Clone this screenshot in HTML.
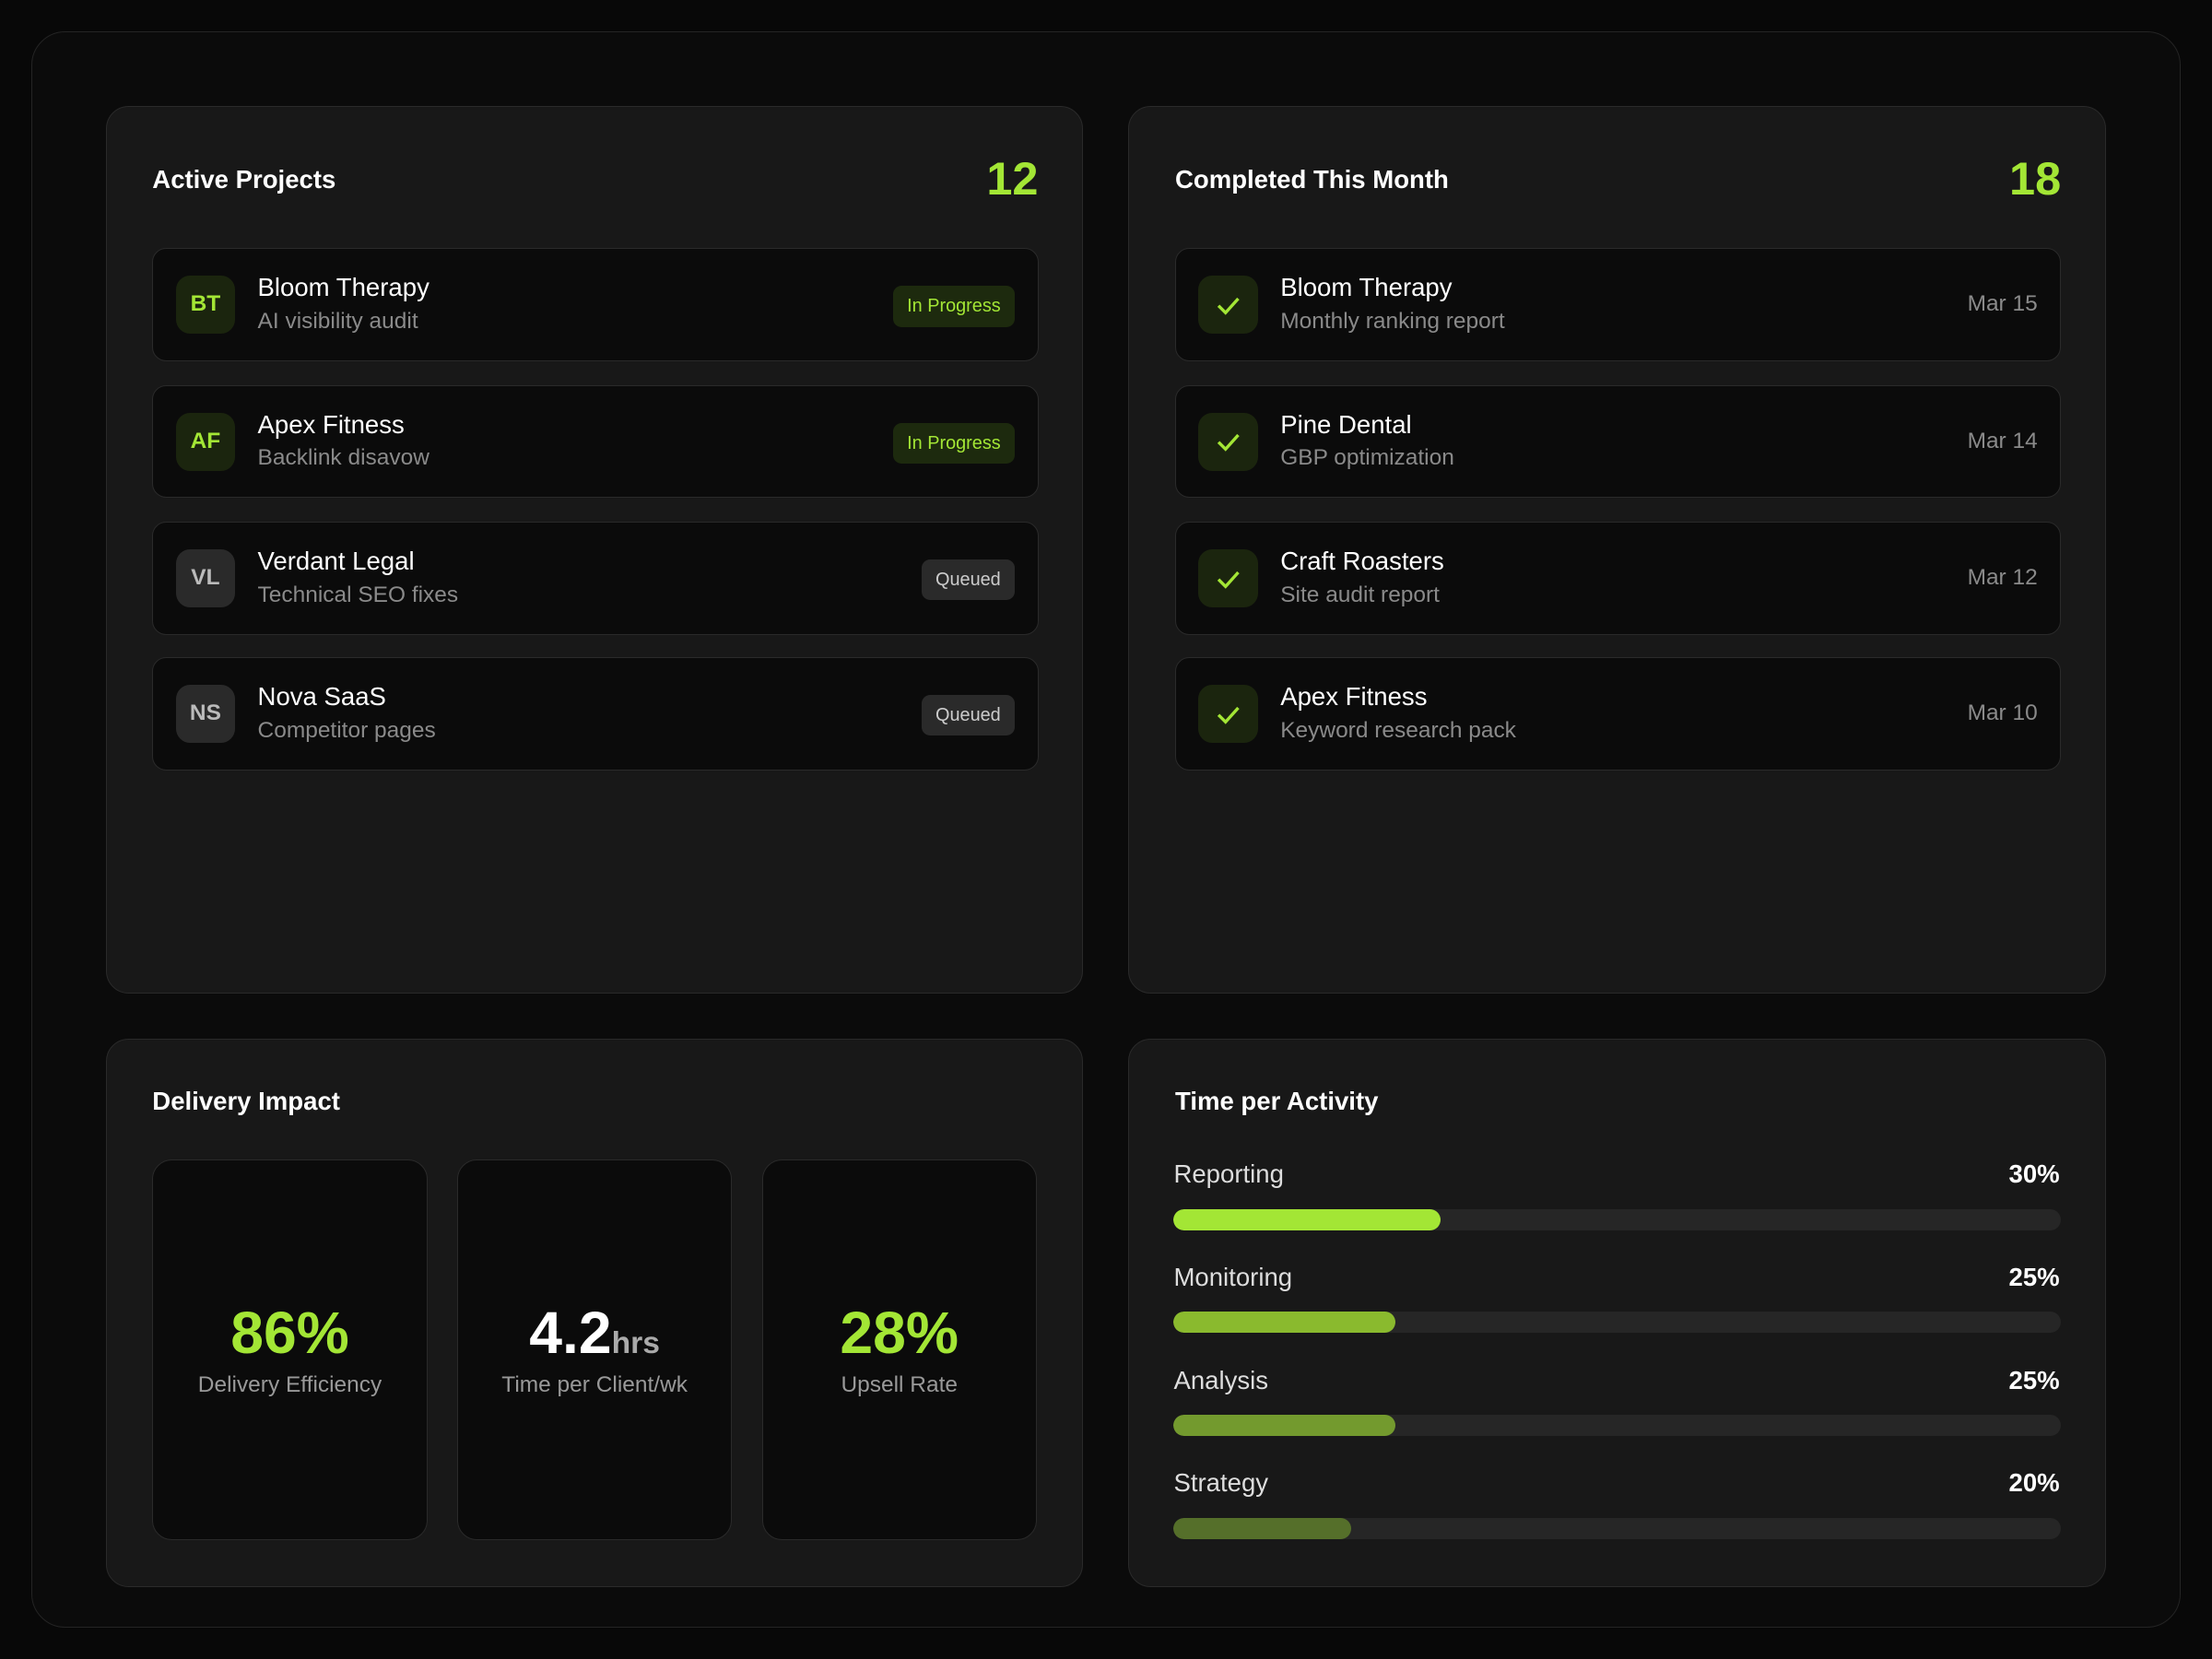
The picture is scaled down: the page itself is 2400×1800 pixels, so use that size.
<!DOCTYPE html>
<html><head><meta charset="utf-8"><style>
*{box-sizing:border-box;margin:0;padding:0}
html,body{width:2400px;height:1800px;background:#080808;overflow:hidden;font-family:"Liberation Sans",sans-serif;color:#fff}
#w{position:absolute;left:0;top:0;width:1568px;height:1176px;zoom:1.530612}
.a{position:absolute}
.frame{left:22px;top:22px;width:1524px;height:1132px;border:1px solid #242424;border-radius:24px;background:#0b0b0b}
.card{background:#181818;border:1px solid #2a2a2a;border-radius:16px}
.title{font-size:18px;font-weight:bold;white-space:nowrap}
.num{font-size:33px;font-weight:bold;color:#a3e635;text-align:right}
.row{background:#0b0b0b;border:1px solid #2a2a2a;border-radius:10px;height:80px}
.av{left:16px;top:19px;width:42px;height:41px;border-radius:10px;background:#1b250e;color:#a3e635;font-weight:bold;font-size:16px;line-height:41px;text-align:center}
.av.g{background:#2a2a2a;color:#bbb}
.nm{left:74px;top:17px;font-size:18px;white-space:nowrap}
.sb{left:74px;top:42px;font-size:16px;color:#8a8a8a;white-space:nowrap}
.bd{right:16px;top:26px;height:29px;line-height:29px;padding:0 10px;border-radius:6px;font-size:13px;background:#1d2a0e;color:#a3e635}
.bd.q{background:#2a2a2a;color:#ccc}
.dt{right:16px;top:30px;font-size:16px;color:#8a8a8a}
.box{background:#0b0b0b;border:1px solid #2a2a2a;border-radius:14px;width:195px;height:270px;top:822px;text-align:center}
.big{position:absolute;left:0;right:0;top:98px;font-size:42px;font-weight:bold}
.lb{position:absolute;left:0;right:0;top:150px;font-size:16px;color:#999}
.bl{left:832px;font-size:18px;color:#ddd}
.bp{right:108px;font-size:18px;font-weight:bold;text-align:right}
.tr{left:832px;width:629px;height:15px;border-radius:8px;background:#262626;overflow:hidden}
.tr div{height:100%;border-radius:8px}
</style></head><body><div id="w">
<div class="a frame"></div>
<div class="a card" style="left:75px;top:75px;width:693px;height:629px"></div>
<div class="a card" style="left:800px;top:75px;width:693px;height:629px"></div>
<div class="a card" style="left:75px;top:736px;width:693px;height:389px"></div>
<div class="a card" style="left:800px;top:736px;width:693px;height:389px"></div>

<div class="a title" style="left:108px;top:117px">Active Projects</div>
<div class="a num" style="left:660px;width:76px;top:107px">12</div>
<div class="a title" style="left:833px;top:117px">Completed This Month</div>
<div class="a num" style="left:1385px;width:76px;top:107px">18</div>

<div class="a row" style="left:108px;top:176px;width:628px"><div class="a av">BT</div><div class="a nm">Bloom Therapy</div><div class="a sb">AI visibility audit</div><div class="a bd">In Progress</div></div>
<div class="a row" style="left:108px;top:273px;width:628px"><div class="a av">AF</div><div class="a nm">Apex Fitness</div><div class="a sb">Backlink disavow</div><div class="a bd">In Progress</div></div>
<div class="a row" style="left:108px;top:370px;width:628px"><div class="a av g">VL</div><div class="a nm">Verdant Legal</div><div class="a sb">Technical SEO fixes</div><div class="a bd q">Queued</div></div>
<div class="a row" style="left:108px;top:466px;width:628px"><div class="a av g">NS</div><div class="a nm">Nova SaaS</div><div class="a sb">Competitor pages</div><div class="a bd q">Queued</div></div>

<div class="a row" style="left:833px;top:176px;width:628px"><div class="a av"><svg width="18" height="14" viewBox="0 0 18 14" style="margin-top:14px"><path d="M2 7l5 5L16 2" stroke="#a3e635" stroke-width="2.2" fill="none"/></svg></div><div class="a nm">Bloom Therapy</div><div class="a sb">Monthly ranking report</div><div class="a dt">Mar 15</div></div>
<div class="a row" style="left:833px;top:273px;width:628px"><div class="a av"><svg width="18" height="14" viewBox="0 0 18 14" style="margin-top:14px"><path d="M2 7l5 5L16 2" stroke="#a3e635" stroke-width="2.2" fill="none"/></svg></div><div class="a nm">Pine Dental</div><div class="a sb">GBP optimization</div><div class="a dt">Mar 14</div></div>
<div class="a row" style="left:833px;top:370px;width:628px"><div class="a av"><svg width="18" height="14" viewBox="0 0 18 14" style="margin-top:14px"><path d="M2 7l5 5L16 2" stroke="#a3e635" stroke-width="2.2" fill="none"/></svg></div><div class="a nm">Craft Roasters</div><div class="a sb">Site audit report</div><div class="a dt">Mar 12</div></div>
<div class="a row" style="left:833px;top:466px;width:628px"><div class="a av"><svg width="18" height="14" viewBox="0 0 18 14" style="margin-top:14px"><path d="M2 7l5 5L16 2" stroke="#a3e635" stroke-width="2.2" fill="none"/></svg></div><div class="a nm">Apex Fitness</div><div class="a sb">Keyword research pack</div><div class="a dt">Mar 10</div></div>

<div class="a title" style="left:108px;top:770px">Delivery Impact</div>
<div class="a box" style="left:108px"><div class="big" style="color:#a3e635">86%</div><div class="lb">Delivery Efficiency</div></div>
<div class="a box" style="left:324px"><div class="big">4.2<span style="font-size:22px;color:#aaa">hrs</span></div><div class="lb">Time per Client/wk</div></div>
<div class="a box" style="left:540px"><div class="big" style="color:#a3e635">28%</div><div class="lb">Upsell Rate</div></div>

<div class="a title" style="left:833px;top:770px">Time per Activity</div>
<div class="a bl" style="top:822px">Reporting</div><div class="a bp" style="top:822px">30%</div>
<div class="a tr" style="top:857px"><div style="width:189px;background:#a3e635"></div></div>
<div class="a bl" style="top:895px">Monitoring</div><div class="a bp" style="top:895px">25%</div>
<div class="a tr" style="top:930px"><div style="width:157px;background:#8aba2e"></div></div>
<div class="a bl" style="top:968px">Analysis</div><div class="a bp" style="top:968px">25%</div>
<div class="a tr" style="top:1003px"><div style="width:157px;background:#739a2e"></div></div>
<div class="a bl" style="top:1041px">Strategy</div><div class="a bp" style="top:1041px">20%</div>
<div class="a tr" style="top:1076px"><div style="width:126px;background:#556f2a"></div></div>
</div></body></html>
